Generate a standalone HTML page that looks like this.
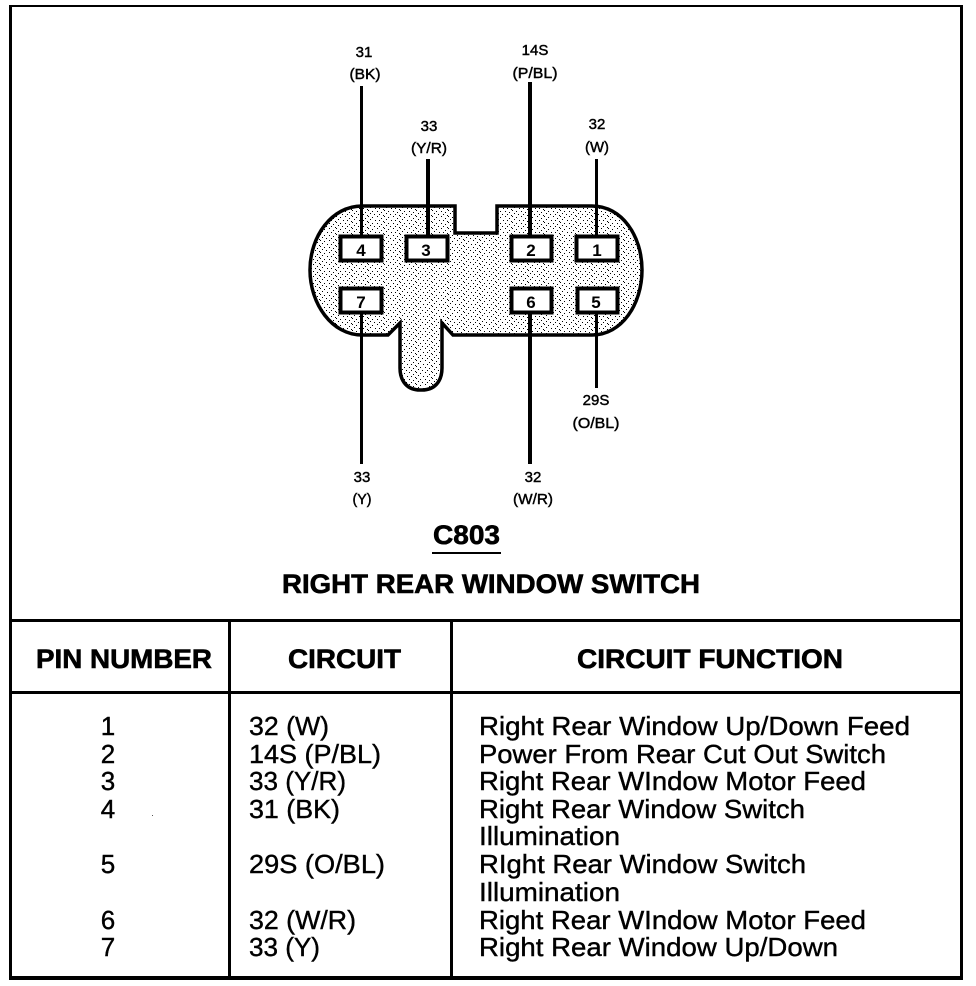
<!DOCTYPE html>
<html><head><meta charset="utf-8"><style>
html,body{margin:0;padding:0;background:#fff}
svg{display:block}
text{font-family:"Liberation Sans",sans-serif;fill:#000}
.s{font-size:15px;text-anchor:middle;stroke:#000;stroke-width:.45}
.b{font-size:27px;font-weight:bold;stroke:#000;stroke-width:.6}
.t{font-size:26px;stroke:#000;stroke-width:.4}
</style></head><body>
<svg width="976" height="986" viewBox="0 0 976 986" xmlns="http://www.w3.org/2000/svg">
<defs>
<pattern id="d" width="16" height="12" patternUnits="userSpaceOnUse">
<rect width="16" height="12" fill="#fff"/>
<g fill="#000"><rect x="0" y="0" width="1" height="1"/><rect x="4" y="1" width="1" height="1"/><rect x="9" y="0" width="1" height="1"/><rect x="13" y="2" width="1" height="1"/><rect x="2" y="3" width="1" height="1"/><rect x="7" y="4" width="1" height="1"/><rect x="11" y="4" width="1" height="1"/><rect x="15" y="5" width="1" height="1"/><rect x="0" y="6" width="1" height="1"/><rect x="4" y="7" width="1" height="1"/><rect x="9" y="7" width="1" height="1"/><rect x="13" y="8" width="1" height="1"/><rect x="2" y="9" width="1" height="1"/><rect x="6" y="10" width="1" height="1"/><rect x="11" y="10" width="1" height="1"/><rect x="15" y="11" width="1" height="1"/></g>
</pattern>
</defs>
<rect width="976" height="986" fill="#fff"/>
<g fill="#000" shape-rendering="crispEdges">
<rect x="9" y="5" width="954" height="2"/>
<rect x="9" y="5" width="3" height="975"/>
<rect x="960" y="5" width="3" height="975"/>
<rect x="9" y="976" width="954" height="4"/>
<rect x="9" y="619" width="954" height="3"/>
<rect x="9" y="691" width="954" height="3"/>
<rect x="228" y="620" width="3" height="358"/>
<rect x="450" y="620" width="3" height="358"/>
<rect x="432" y="552" width="69" height="2"/>
</g>
<path d="M362 206H455V233H497V206H592C622 206 642 236 642 270C642 304 622 335 592 335H453L442 323V368C442 382 434 390 422 390H420C408 390 400 382 400 368V323L388 335H362C332 335 310 304 310 270C310 236 332 206 362 206Z" fill="url(#d)" stroke="#000" stroke-width="3.5"/>
<g fill="#000" shape-rendering="crispEdges">
<rect x="360" y="86" width="3" height="150"/>
<rect x="426" y="159" width="4" height="77"/>
<rect x="528" y="82" width="4" height="154"/>
<rect x="595" y="159" width="3" height="77"/>
<rect x="360" y="312" width="3" height="152"/>
<rect x="528" y="312" width="4" height="152"/>
<rect x="595" y="312" width="3" height="76"/>
</g>
<g fill="#fff" stroke="#000" stroke-width="4">
<rect x="340.500" y="236.500" width="41" height="24"/>
<rect x="406.500" y="236.500" width="41" height="24"/>
<rect x="511.500" y="236.500" width="40" height="24"/>
<rect x="576.500" y="236.500" width="41" height="24"/>
<rect x="340.500" y="288.500" width="41" height="24"/>
<rect x="511.500" y="288.500" width="40" height="24"/>
<rect x="577.500" y="288.500" width="40" height="24"/>
</g>
<g style="font-size:17px;font-weight:bold;text-anchor:middle">
<text x="361" y="256">4</text><text x="426" y="256">3</text><text x="531" y="256">2</text><text x="597" y="256">1</text>
<text x="361" y="308">7</text><text x="531" y="308">6</text><text x="596" y="308">5</text>
</g>
<text class="s" x="364" y="57">31</text>
<text class="s" x="365" y="79" textLength="31" lengthAdjust="spacingAndGlyphs">(BK)</text>
<text class="s" x="535" y="55">14S</text>
<text class="s" x="535" y="78" textLength="45" lengthAdjust="spacingAndGlyphs">(P/BL)</text>
<text class="s" x="429" y="131">33</text>
<text class="s" x="429" y="153" textLength="36" lengthAdjust="spacingAndGlyphs">(Y/R)</text>
<text class="s" x="597" y="129">32</text>
<text class="s" x="597" y="152" textLength="24" lengthAdjust="spacingAndGlyphs">(W)</text>
<text class="s" x="596" y="405">29S</text>
<text class="s" x="596" y="428" textLength="47" lengthAdjust="spacingAndGlyphs">(O/BL)</text>
<text class="s" x="362" y="482">33</text>
<text class="s" x="362" y="504" textLength="19" lengthAdjust="spacingAndGlyphs">(Y)</text>
<text class="s" x="533" y="482">32</text>
<text class="s" x="533" y="504" textLength="40" lengthAdjust="spacingAndGlyphs">(W/R)</text>
<text class="b" x="433" y="544" textLength="67" lengthAdjust="spacingAndGlyphs">C803</text>
<text class="b" x="282" y="593" textLength="418" lengthAdjust="spacingAndGlyphs">RIGHT REAR WINDOW SWITCH</text>
<text class="b" x="36" y="668" textLength="176" lengthAdjust="spacingAndGlyphs">PIN NUMBER</text>
<text class="b" x="288" y="668" textLength="113" lengthAdjust="spacingAndGlyphs">CIRCUIT</text>
<text class="b" x="577" y="668" textLength="266" lengthAdjust="spacingAndGlyphs">CIRCUIT FUNCTION</text>
<g style="font-size:26px;text-anchor:middle;stroke:#000;stroke-width:.4">
<text x="108" y="735">1</text><text x="108" y="763">2</text><text x="108" y="790">3</text><text x="108" y="818">4</text>
<text x="108" y="873">5</text><text x="108" y="929">6</text><text x="108" y="956">7</text>
</g>
<text class="t" x="249" y="735" textLength="80" lengthAdjust="spacingAndGlyphs">32 (W)</text>
<text class="t" x="249" y="763" textLength="132" lengthAdjust="spacingAndGlyphs">14S (P/BL)</text>
<text class="t" x="249" y="790" textLength="97" lengthAdjust="spacingAndGlyphs">33 (Y/R)</text>
<text class="t" x="249" y="818" textLength="91" lengthAdjust="spacingAndGlyphs">31 (BK)</text>
<text class="t" x="249" y="873" textLength="136" lengthAdjust="spacingAndGlyphs">29S (O/BL)</text>
<text class="t" x="249" y="929" textLength="107" lengthAdjust="spacingAndGlyphs">32 (W/R)</text>
<text class="t" x="249" y="956" textLength="71" lengthAdjust="spacingAndGlyphs">33 (Y)</text>
<text class="t" x="479" y="735" textLength="431" lengthAdjust="spacingAndGlyphs">Right Rear Window Up/Down Feed</text>
<text class="t" x="479" y="763" textLength="407" lengthAdjust="spacingAndGlyphs">Power From Rear Cut Out Switch</text>
<text class="t" x="479" y="790" textLength="387" lengthAdjust="spacingAndGlyphs">Right Rear WIndow Motor Feed</text>
<text class="t" x="479" y="818" textLength="326" lengthAdjust="spacingAndGlyphs">Right Rear Window Switch</text>
<text class="t" x="479" y="845" textLength="141" lengthAdjust="spacingAndGlyphs">Illumination</text>
<text class="t" x="479" y="873" textLength="327" lengthAdjust="spacingAndGlyphs">RIght Rear Window Switch</text>
<text class="t" x="479" y="901" textLength="141" lengthAdjust="spacingAndGlyphs">Illumination</text>
<text class="t" x="479" y="929" textLength="387" lengthAdjust="spacingAndGlyphs">Right Rear WIndow Motor Feed</text>
<text class="t" x="479" y="956" textLength="359" lengthAdjust="spacingAndGlyphs">Right Rear Window Up/Down</text>
<rect x="152" y="815" width="1" height="1" fill="#555"/>
</svg>
</body></html>
